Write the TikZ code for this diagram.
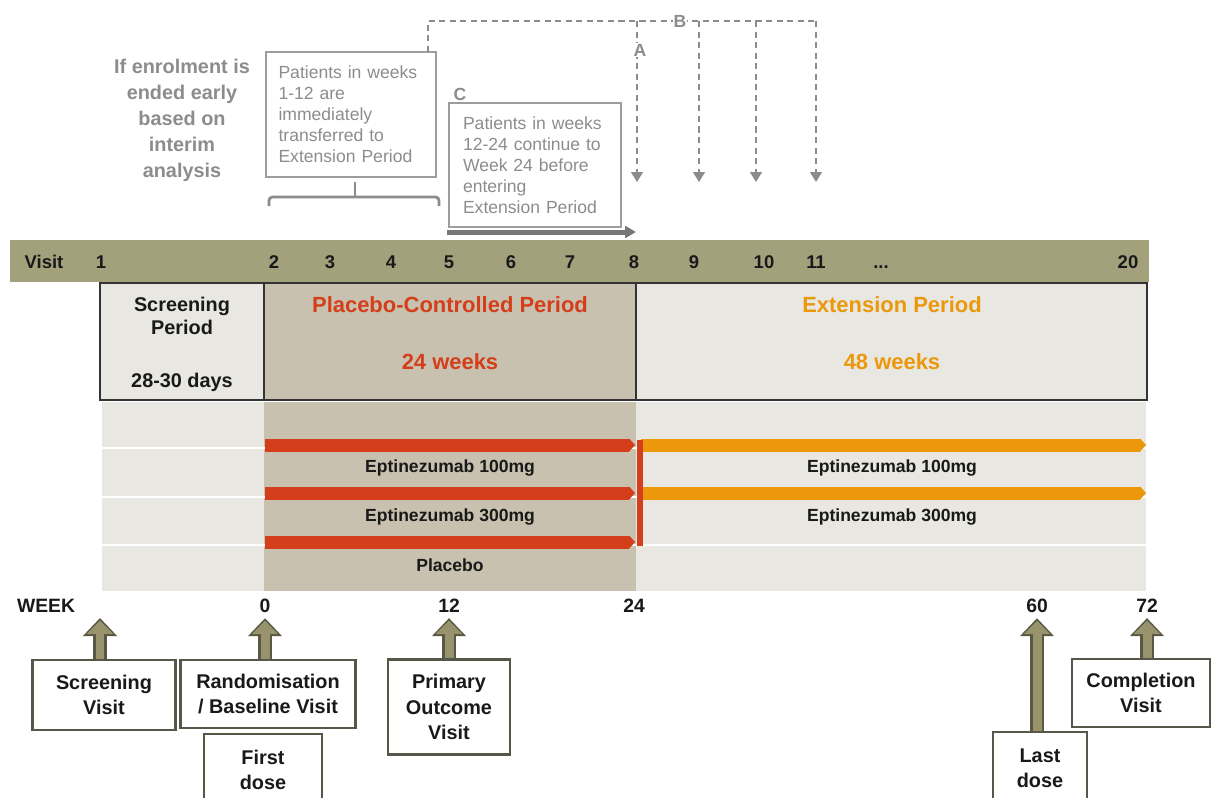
\documentclass[tikz,border=0pt]{standalone}
\usepackage{fontspec}
\setmainfont{Liberation Sans}
\usepackage{tikz}
\usetikzlibrary{arrows.meta,positioning}

\definecolor{olivebar}{RGB}{163,160,124}
\definecolor{tanbox}{RGB}{200,193,175}
\definecolor{lightbox}{RGB}{232,231,225}
\definecolor{placred}{RGB}{212,62,26}
\definecolor{extorange}{RGB}{236,152,12}
\definecolor{notegrey}{RGB}{140,140,140}
\definecolor{arrowfill}{RGB}{152,147,108}
\definecolor{arrowline}{RGB}{88,88,68}
\definecolor{boxline}{RGB}{85,87,72}

\begin{document}
\begin{tikzpicture}[x=0.02cm,y=-0.02cm,
  lab/.style={inner sep=0pt,anchor=base,text=black!90,font=\fontsize{10.5}{12}\selectfont\bfseries},
  wk/.style={inner sep=0pt,text=black!90,font=\fontsize{11}{13}\selectfont\bfseries},
  per/.style={inner sep=0pt,align=center,text=black!90,font=\fontsize{11.3}{13}\selectfont\bfseries},
  ptitle/.style={inner sep=0pt,font=\fontsize{12.5}{14}\selectfont\bfseries},
  trtlab/.style={inner sep=0pt,text=black!90,font=\fontsize{10}{12}\selectfont\bfseries},
  note/.style={draw=notegrey!85,line width=0.9pt,text=notegrey,inner sep=0pt,align=left,font=\fontsize{10}{12}\selectfont},
  greyb/.style={inner sep=0pt,text=notegrey,font=\fontsize{10}{12}\selectfont\bfseries},
  evbox/.style={draw=boxline,line width=1.2pt,fill=white,inner sep=0pt,align=center,text=black!90,font=\fontsize{11.3}{14.5}\selectfont\bfseries},
  bigout/.style={draw=arrowline,line width=0.28cm,shorten >=0.1cm,-{Triangle[width=0.66cm,length=0.36cm]}},
  bigin/.style={draw=arrowfill,line width=0.18cm,shorten >=0.15cm,-{Triangle[width=0.52cm,length=0.27cm]}},
  trt/.style={line width=0.26cm,-{Triangle[width=0.26cm,length=0.12cm]}},
  dashline/.style={draw=notegrey,line width=0.8pt,dash pattern=on 3.5pt off 2.5pt}
]
\useasboundingbox (0,0) rectangle (1211,798);

% visits
\fill[olivebar] (10,240) rectangle (1149,282);
\node[lab] (vvis) at (44,268) {Visit};
\foreach \n/\x in {1/101,2/274,3/330,4/391,5/449,6/511,7/570,8/634,9/694,10/764,11/816,20/1128}
  \node[lab] (v\n) at (\x,268) {\n};
\node[lab] (vdots) at (881,268) {...};

% periods
\fill[lightbox] (100,283) rectangle (264,400);
\fill[tanbox] (264,283) rectangle (636,400);
\fill[lightbox] (636,283) rectangle (1147,400);
\draw[black!80,line width=0.9pt] (100,283) rectangle (1147,400) (264,283) -- (264,400) (636,283) -- (636,400);
\node[per] (scrp) at (182,316) {Screening\\Period};
\node[per] (scrd) at (182,382) {28-30 days};
\node[ptitle,text=placred] (pcp) at (450,305) {Placebo-Controlled Period};
\node[ptitle,text=placred] (pcw) at (450,362) {24 weeks};
\node[ptitle,text=extorange] (exp) at (892,305) {Extension Period};
\node[ptitle,text=extorange] (exw) at (892,362) {48 weeks};

% arms
\fill[lightbox] (102,402) rectangle (264,591);
\fill[tanbox] (264,402) rectangle (636,591);
\fill[lightbox] (636,402) rectangle (1146,591);
\foreach \y in {448,497,545}
  \draw[white,line width=1.2pt] (102,\y) -- (1146,\y);
\foreach \i/\y in {1/445,2/493,3/542}{
  \coordinate (ra\i) at (265,\y);
  \coordinate (rb\i) at (635,\y);
  \draw[trt,placred] (ra\i) -- (rb\i);
}
\foreach \i/\y in {1/445,2/493}{
  \coordinate (oa\i) at (641,\y);
  \coordinate (ob\i) at (1146,\y);
  \draw[trt,extorange] (oa\i) -- (ob\i);
}
\coordinate (sw1) at (640,440);
\coordinate (sw2) at (640,546);
\draw[placred,line width=0.12cm] (sw1) -- (sw2);
\node[trtlab] (p100) at (450,468) {Eptinezumab 100mg};
\node[trtlab] (p300) at (450,517) {Eptinezumab 300mg};
\node[trtlab] (pplc) at (450,565) {Placebo};
\node[trtlab] (x100) at (892,468) {Eptinezumab 100mg};
\node[trtlab] (x300) at (892,517) {Eptinezumab 300mg};

% weeks
\node[wk] (wlab) at (46,606) {WEEK};
\node[wk] (w0) at (265,606) {0};
\node[wk] (w12) at (449,606) {12};
\node[wk] (w24) at (634,606) {24};
\node[wk] (w60) at (1037,606) {60};
\node[wk] (w72) at (1147,606) {72};
\coordinate (wscr) at (100,613);

\node[evbox,minimum width=2.86cm,minimum height=1.4cm] (scrv) at (104,695) {Screening\\Visit};
\node[evbox,minimum width=3.5cm,minimum height=1.36cm] (rand) at (268,694) {Randomisation\\/ Baseline Visit};
\node[evbox,minimum width=2.36cm,minimum height=1.44cm,below=0.08cm of rand,xshift=-0.1cm] (first) {First\\dose};
\node[evbox,minimum width=2.44cm,minimum height=1.9cm] (prim) at (449,707) {Primary\\Outcome\\Visit};
\node[evbox,minimum width=1.88cm,minimum height=1.44cm] (last) at (1040,768) {Last\\dose};
\node[evbox,minimum width=2.76cm,minimum height=1.36cm] (comp) at (1141,693) {Completion\\Visit};
\foreach \b/\t in {scrv/wscr,rand/w0,prim/w12,last/w60,comp/w72}{
  \draw[bigout] (\b.north -| \t) -- (\t);
  \draw[bigin] (\b.north -| \t) -- (\t);
}

% interim analysis
\node[inner sep=0pt,align=center,text=notegrey,font=\fontsize{11.3}{14.8}\selectfont\bfseries] (ifend) at (182,120) {If enrolment is\\ended early\\based on\\interim\\analysis};
\node[note,minimum width=3.4cm,minimum height=2.5cm,text width=2.9cm] (n12) at (351,114.5) {Patients in weeks\\1-12 are\\immediately\\transferred to\\Extension Period};
\node[note,minimum width=3.44cm,minimum height=2.48cm,text width=2.88cm] (n24) at (535,165) {Patients in weeks\\12-24 continue to\\Week 24 before\\entering\\Extension Period};
\draw[notegrey,line width=1.6pt,rounded corners=2pt] (269,206) -- (269,197) -- (439,197) -- (439,206);
\draw[notegrey,line width=1.6pt] (355,197) -- (355,182);
\coordinate (ga) at (447,232);
\coordinate (gb) at (636,232);
\draw[notegrey!85!black,line width=0.1cm,-{Triangle[width=0.24cm,length=0.22cm]}] (ga) -- (gb);
\coordinate (d0) at (428,52);
\coordinate (d1) at (816,21);
\draw[dashline] (d0) |- (d1);
\foreach \i/\x in {1/637,2/699,3/756,4/816}{
  \coordinate (da\i) at (\x,21);
  \coordinate (db\i) at (\x,182);
  \draw[dashline,-{Triangle[width=0.24cm,length=0.2cm]}] (da\i) -- (db\i);
}
\node[greyb] (lC) at (460,94) {C};
\node[greyb,fill=white,inner sep=0.6pt] (lA) at (640,50) {A};
\node[greyb,fill=white,inner sep=0.6pt] (lB) at (680,21) {B};
\end{tikzpicture}
\end{document}
